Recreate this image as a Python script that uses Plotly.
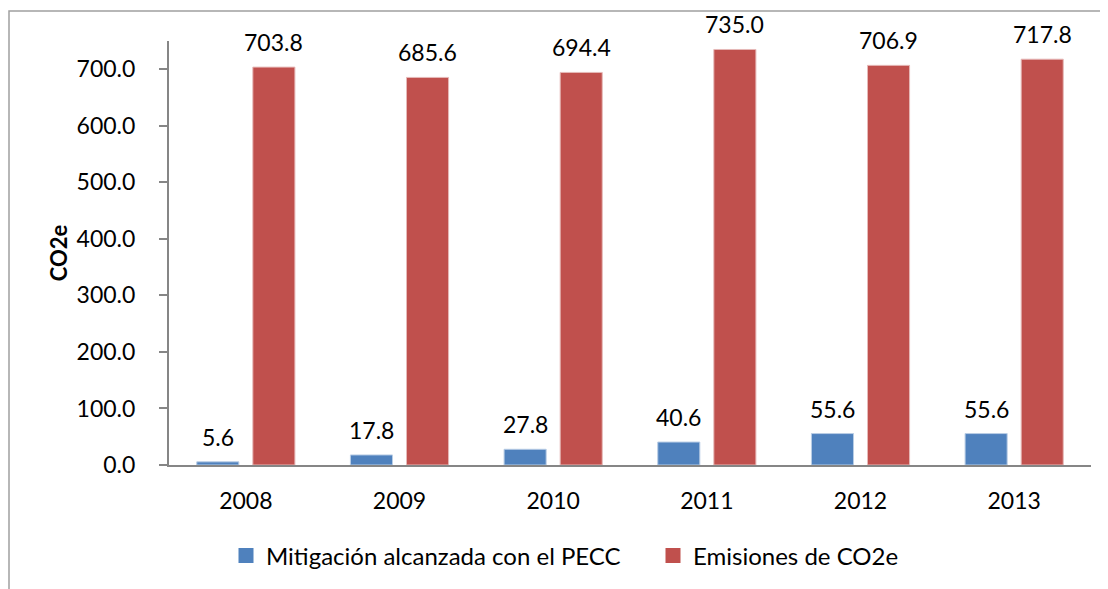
import plotly.graph_objects as go

years = ["2008", "2009", "2010", "2011", "2012", "2013"]
mitigacion = [5.6, 17.8, 27.8, 40.6, 55.6, 55.6]
emisiones = [703.8, 685.6, 694.4, 735.0, 706.9, 717.8]
series_names = ["Mitigación alcanzada con el PECC", "Emisiones de CO2e"]
colors = ["#4F81BD", "#C0504D"]
edge_colors = ["#B9CDE5", "#E6B9B8"]
y_ticks = [0, 100, 200, 300, 400, 500, 600, 700]

FONT = "Lato"
FS = 23
OFF = 8  # page body margin
W, H = 1108 - OFF, 589 - OFF
L, R, T, B = 169 - OFF, 17, 41 - OFF, 124
BARGAP = 0.27
plot_w = W - L - R
plot_h = H - T - B
cat_w = plot_w / len(years)
slot = cat_w * (1 - BARGAP) / 2

fig = go.Figure()
for vals, name, c, ec in zip((mitigacion, emisiones), series_names, colors, edge_colors):
    fig.add_trace(go.Bar(x=years, y=vals, name=name, showlegend=False,
                         marker=dict(color=c, line=dict(color=ec, width=1))))
# legend entries with larger square keys
for name, c in zip(series_names, colors):
    fig.add_trace(go.Scatter(x=[None], y=[None], mode="markers", name=name,
                             marker=dict(symbol="square", size=15, color=c)))

for vals, sgn in ((mitigacion, -1), (emisiones, 1)):
    for i, yv in enumerate(vals):
        fig.add_annotation(x=i, y=yv, text=f"{yv:.1f}", showarrow=False,
                           xshift=sgn * slot / 2, yshift=25, yanchor="middle",
                           font=dict(family=FONT, size=FS, color="#000000"))

fig.add_shape(type="rect", xref="paper", yref="paper",
              x0=(9 - OFF - L) / plot_w, x1=(W + 20 - L) / plot_w,
              y0=-(B + 20) / plot_h, y1=(H - B - (11 - OFF)) / plot_h,
              line=dict(color="#A0A0A0", width=1.5), fillcolor="rgba(0,0,0,0)", layer="below")

fig.update_layout(
    width=W, height=H,
    margin=dict(l=L, r=R, t=T, b=B, autoexpand=False),
    paper_bgcolor="white", plot_bgcolor="white",
    barmode="group", bargap=BARGAP, bargroupgap=0.25,
    font=dict(family=FONT, size=FS, color="#000000"),
    showlegend=True,
    legend=dict(orientation="h", xref="container", yref="container",
                x=(226 - OFF) / W, xanchor="left",
                y=1 - (556 - OFF) / H, yanchor="middle",
                font=dict(family=FONT, size=24), itemwidth=30,
                entrywidth=382, entrywidthmode="pixels",
                bgcolor="rgba(0,0,0,0)"),
    xaxis=dict(type="category", range=[-0.5, len(years) - 0.5],
               showline=True, linecolor="#868686", linewidth=2, ticks="",
               showgrid=False, ticklabelstandoff=14, automargin=False,
               tickfont=dict(family=FONT, size=FS)),
    yaxis=dict(range=[0, 750], tickvals=y_ticks, tickformat=".1f",
               showline=True, linecolor="#868686", linewidth=2,
               ticks="outside", ticklen=8, tickcolor="#868686", tickwidth=2,
               showgrid=False, zeroline=False, ticklabelstandoff=19, automargin=False,
               tickfont=dict(family=FONT, size=FS),
               title=dict(text="<b>CO2e</b>", standoff=3,
                          font=dict(family=FONT, size=22))),
)

fig.write_html("out.html")
